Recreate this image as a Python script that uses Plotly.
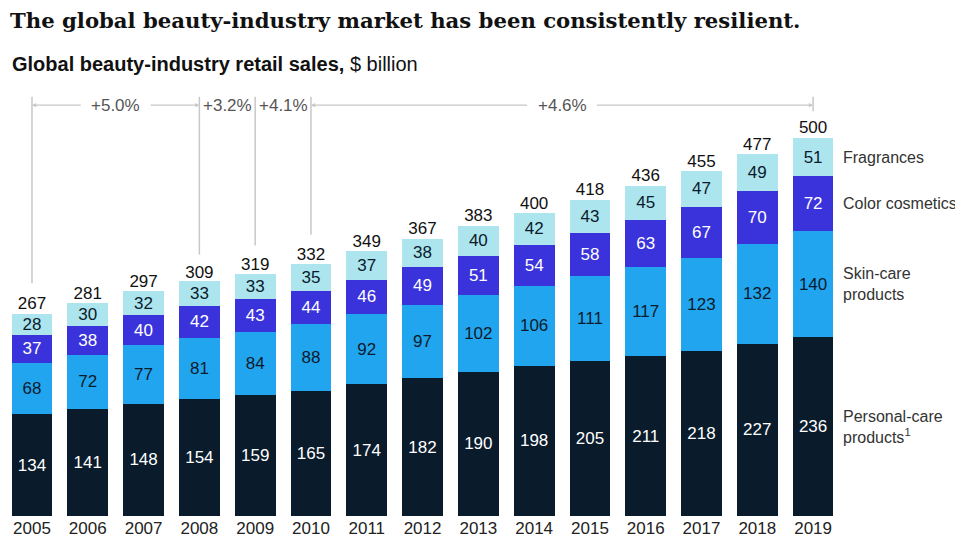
import plotly.graph_objects as go

years = list(range(2005, 2020))
personal_care = [134, 141, 148, 154, 159, 165, 174, 182, 190, 198, 205, 211, 218, 227, 236]
skin_care = [68, 72, 77, 81, 84, 88, 92, 97, 102, 106, 111, 117, 123, 132, 140]
color_cosmetics = [37, 38, 40, 42, 43, 44, 46, 49, 51, 54, 58, 63, 67, 70, 72]
fragrances = [28, 30, 32, 33, 33, 35, 37, 38, 40, 42, 43, 45, 47, 49, 51]
totals = [267, 281, 297, 309, 319, 332, 349, 367, 383, 400, 418, 436, 455, 477, 500]

segment_names = ['Personal-care<br>products<sup>1</sup>', 'Skin-care<br>products',
                 'Color cosmetics', 'Fragrances']
growth_labels = ['+5.0%', '+3.2%', '+4.1%', '+4.6%']
bracket_years = [2005, 2008, 2009, 2010, 2019]

series = [personal_care, skin_care, color_cosmetics, fragrances]
colors = ['#0a1b2b', '#22a5ef', '#3a33db', '#ace5ee']
text_colors = ['white', '#0a1b2b', 'white', '#0a1b2b']

FONT = 'Liberation Sans'
FS = 17

fig = go.Figure()

for vals, name, col, tcol in zip(series, segment_names, colors, text_colors):
    fig.add_trace(go.Bar(
        x=years, y=vals, name=name,
        marker=dict(color=col, line=dict(width=0)),
        text=vals, texttemplate='%{text}',
        textposition='inside', insidetextanchor='middle',
        textangle=0, constraintext='none',
        textfont=dict(family=FONT, size=FS, color=tcol),
        width=0.73,
    ))

# totals above bars
fig.add_trace(go.Scatter(
    x=years, y=totals, mode='text', text=[str(t) for t in totals],
    textposition='top center',
    textfont=dict(family=FONT, size=FS, color='#111'),
    hoverinfo='skip', showlegend=False,
))

# segment labels beside the last bar
last = [s[-1] for s in series]
base = 0
for v, name in zip(last, segment_names):
    fig.add_annotation(
        x=2019.5, y=base + v / 2, xref='x', yref='y',
        text=name, showarrow=False, xanchor='left', align='left',
        font=dict(family=FONT, size=16, color='#333'),
    )
    base += v

# growth brackets
line_col = '#c8c8c8'
y_top = 553
y_br = 542
line_bottoms = {2005: 307, 2008: 345, 2009: 357, 2010: 371, 2019: 534}
for yr in bracket_years:
    fig.add_shape(type='line', x0=yr, x1=yr, y0=line_bottoms[yr], y1=y_top,
                  xref='x', yref='y', line=dict(color=line_col, width=1.5))

for i, lab in enumerate(growth_labels):
    a, b = bracket_years[i], bracket_years[i + 1]
    mid = (a + b) / 2
    fig.add_annotation(x=mid, y=y_br, xref='x', yref='y', text=lab, showarrow=False,
                       font=dict(family=FONT, size=FS, color='#555'))

# horizontal arrow segments for the wide brackets
arrows = [(2005.9, 2005), (2007.1, 2008), (2013.9, 2010), (2015.1, 2019)]
for start, end in arrows:
    fig.add_annotation(x=end, y=y_br, ax=start, ay=y_br, xref='x', yref='y',
                       axref='x', ayref='y', text='', showarrow=True,
                       arrowhead=2, arrowsize=0.7, arrowwidth=1.2, arrowcolor=line_col)

# page body has an 8px margin, so the figure is sized/offset to compensate
fig.update_layout(
    barmode='stack',
    width=955, height=533,
    margin=dict(l=0, r=122, t=87, b=25, autoexpand=False),
    paper_bgcolor='white', plot_bgcolor='white',
    showlegend=False,
)
fig.add_annotation(
    xref='paper', yref='paper', x=0, y=(508 - 12) / 421,
    xanchor='left', yanchor='middle',
    text='<b>The global beauty-industry market has been consistently resilient.</b>',
    showarrow=False,
    font=dict(family='DejaVu Serif', size=21.2, color='#111'),
)
fig.add_annotation(
    xref='paper', yref='paper', x=2 / 833, y=(508 - 56) / 421,
    xanchor='left', yanchor='middle',
    text='<b>Global beauty-industry retail sales,</b> $ billion', showarrow=False,
    font=dict(family=FONT, size=20, color='#111'),
)

fig.update_xaxes(
    range=[2004.57, 2019.5], tickvals=years, ticktext=[str(y) for y in years],
    showgrid=False, zeroline=False, showline=False, ticks='', automargin=False,
    tickfont=dict(family=FONT, size=FS, color='#222'),
)
fig.update_yaxes(range=[0, 555.4], visible=False, showgrid=False, automargin=False)

fig.write_html('out.html')
